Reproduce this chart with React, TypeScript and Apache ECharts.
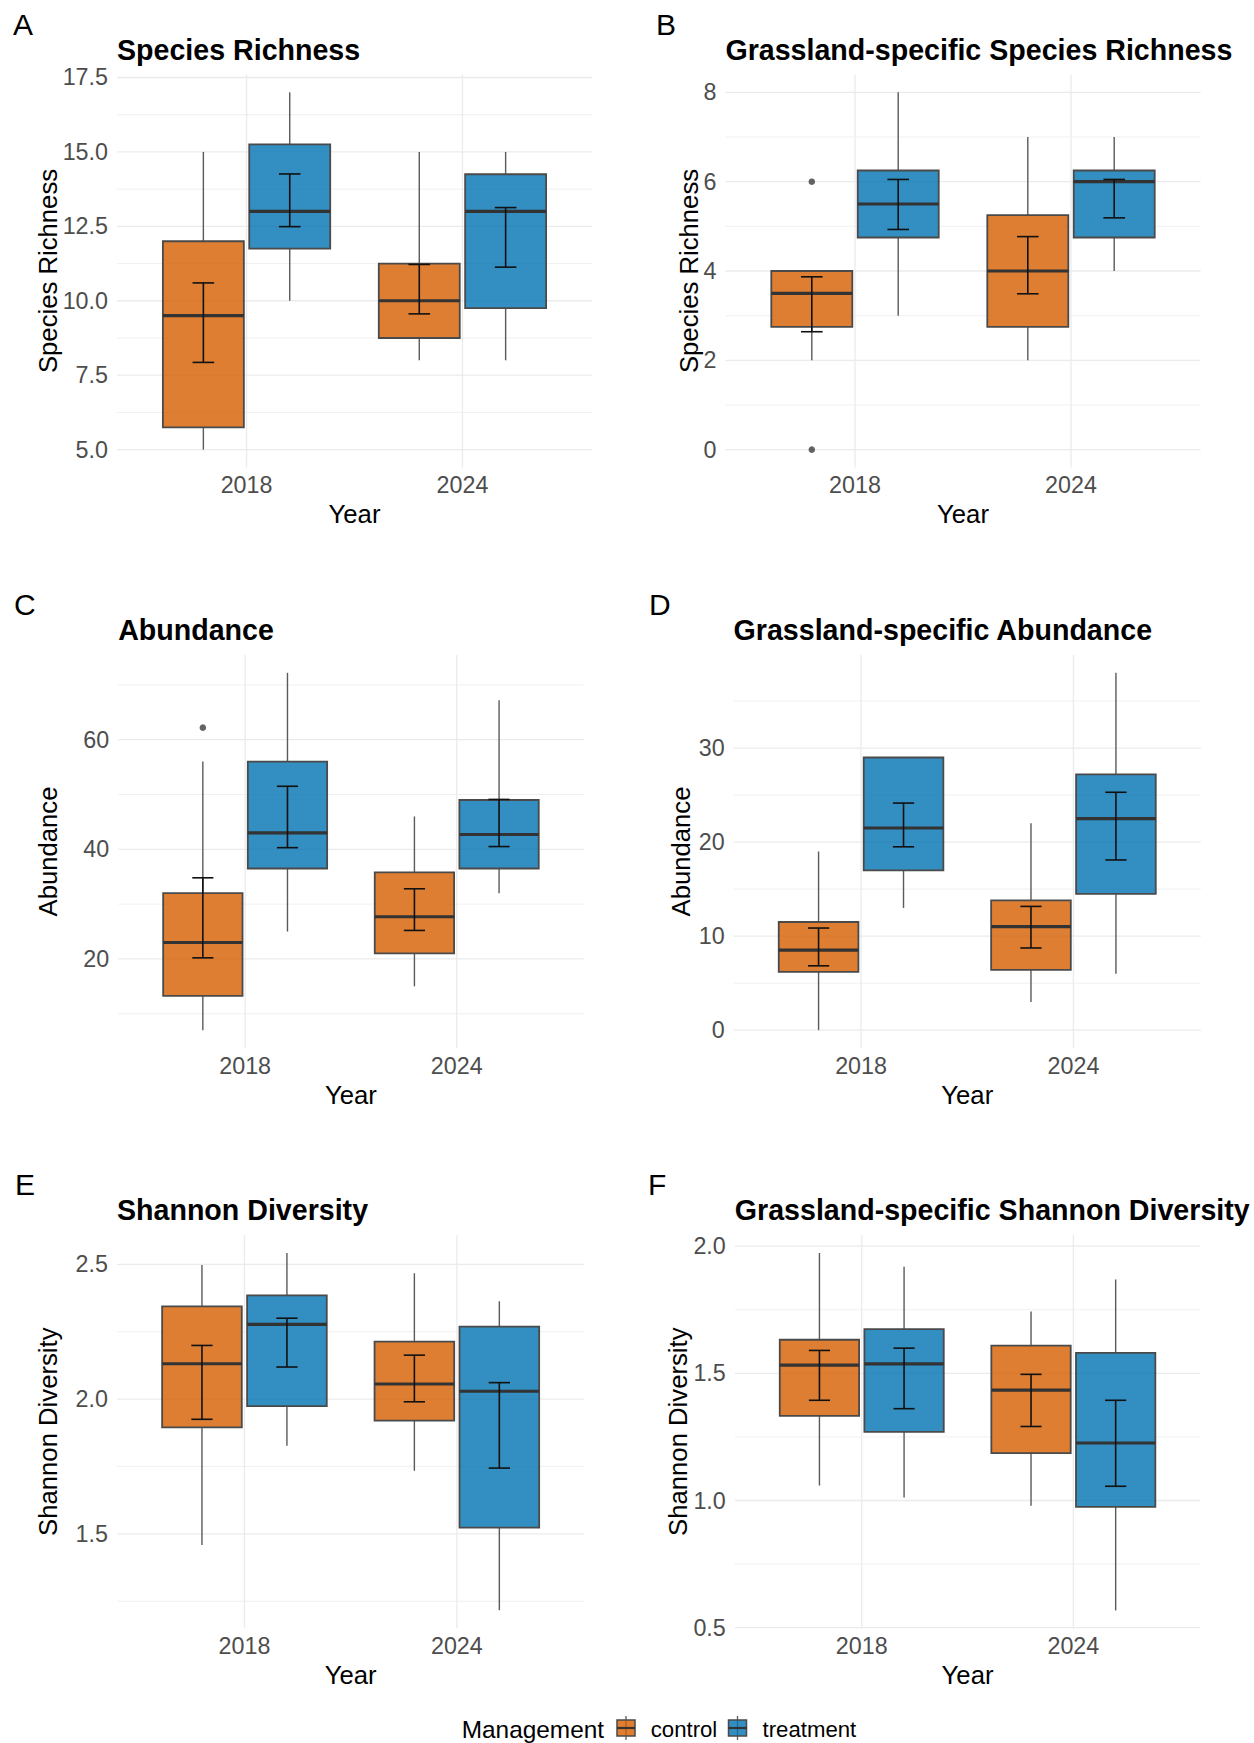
import React, { useEffect, useRef } from "react";
import * as echarts from "echarts";

const FONT = "'Liberation Sans', Arial, Helvetica, sans-serif";

// ---------- shared categories ----------
const years = ["2018", "2024"];
const groups = ["control", "treatment"];
const groupColors = ["rgba(213,94,0,0.8)", "rgba(0,114,178,0.8)"];

// Box values per year: [lower whisker, Q1, median, Q3, upper whisker]
// Error bars per year: [low, high]
// Outliers: [yearIndex, value]

// ---------- A: Species Richness ----------
const richControlBox = [[5, 5.75, 9.5, 12, 15], [8, 8.75, 10, 11.25, 15]];
const richTreatmentBox = [[10, 11.75, 13, 15.25, 17], [8, 9.75, 13, 14.25, 15]];
const richControlErr = [[7.93, 10.6], [9.56, 11.22]];
const richTreatmentErr = [[12.49, 14.26], [11.13, 13.13]];
const richControlOut: number[][] = [];
const richTreatmentOut: number[][] = [];
const richTicks = [5, 7.5, 10, 12.5, 15, 17.5];
const richMinor = [6.25, 8.75, 11.25, 13.75, 16.25];

// ---------- B: Grassland-specific Species Richness ----------
const gRichControlBox = [[2, 2.75, 3.5, 4, 4], [2, 2.75, 4, 5.25, 7]];
const gRichTreatmentBox = [[3, 4.75, 5.5, 6.25, 8], [4, 4.75, 6, 6.25, 7]];
const gRichControlErr = [[2.64, 3.87], [3.49, 4.77]];
const gRichTreatmentErr = [[4.93, 6.05], [5.19, 6.05]];
const gRichControlOut = [[0, 6], [0, 0]];
const gRichTreatmentOut: number[][] = [];
const gRichTicks = [0, 2, 4, 6, 8];
const gRichMinor = [1, 3, 5, 7];

// ---------- C: Abundance ----------
const abunControlBox = [[7, 13.25, 23, 32, 56], [15, 21, 27.7, 35.8, 46]];
const abunTreatmentBox = [[25, 36.5, 43, 56, 72.2], [32, 36.5, 42.7, 49, 67.2]];
const abunControlErr = [[20.2, 34.8], [25.2, 32.8]];
const abunTreatmentErr = [[40.3, 51.5], [40.5, 49.1]];
const abunControlOut = [[0, 62.2]];
const abunTreatmentOut: number[][] = [];
const abunTicks = [20, 40, 60];
const abunMinor = [10, 30, 50, 70];

// ---------- D: Grassland-specific Abundance ----------
const gAbunControlBox = [[0, 6.2, 8.5, 11.5, 19], [3, 6.4, 11, 13.8, 22]];
const gAbunTreatmentBox = [[13, 17, 21.5, 29, 29], [6, 14.5, 22.5, 27.2, 38]];
const gAbunControlErr = [[6.84, 10.86], [8.74, 13.16]];
const gAbunTreatmentErr = [[19.5, 24.15], [18.1, 25.3]];
const gAbunControlOut: number[][] = [];
const gAbunTreatmentOut: number[][] = [];
const gAbunTicks = [0, 10, 20, 30];
const gAbunMinor = [5, 15, 25, 35];

// ---------- E: Shannon Diversity ----------
const shanControlBox = [[1.459, 1.895, 2.131, 2.344, 2.497], [1.734, 1.92, 2.056, 2.213, 2.467]];
const shanTreatmentBox = [[1.827, 1.974, 2.277, 2.385, 2.542], [1.217, 1.523, 2.029, 2.269, 2.363]];
const shanControlErr = [[1.925, 2.199], [1.99, 2.163]];
const shanTreatmentErr = [[2.119, 2.3], [1.744, 2.061]];
const shanControlOut: number[][] = [];
const shanTreatmentOut: number[][] = [];
const shanTicks = [1.5, 2.0, 2.5];
const shanMinor = [1.25, 1.75, 2.25];

// ---------- F: Grassland-specific Shannon Diversity ----------
const gShanControlBox = [[1.059, 1.333, 1.532, 1.632, 1.973], [0.979, 1.186, 1.434, 1.609, 1.743]];
const gShanTreatmentBox = [[1.012, 1.27, 1.537, 1.674, 1.919], [0.568, 0.975, 1.226, 1.58, 1.869]];
const gShanControlErr = [[1.394, 1.59], [1.291, 1.496]];
const gShanTreatmentErr = [[1.361, 1.599], [1.056, 1.394]];
const gShanControlOut: number[][] = [];
const gShanTreatmentOut: number[][] = [];
const gShanTicks = [0.5, 1.0, 1.5, 2.0];
const gShanMinor = [0.75, 1.25, 1.75];

type Panel = {
  tag: string;
  title: string;
  yName: string;
  box: number[][][];
  err: number[][][];
  out: number[][][];
  yMin: number;
  yMax: number;
  ticks: number[];
  minor: number[];
  dec: number;
};

const panels: Panel[] = [
  { tag: "A", title: "Species Richness", yName: "Species Richness", box: [richControlBox, richTreatmentBox], err: [richControlErr, richTreatmentErr], out: [richControlOut, richTreatmentOut], yMin: 4.4, yMax: 17.6, ticks: richTicks, minor: richMinor, dec: 1 },
  { tag: "B", title: "Grassland-specific Species Richness", yName: "Species Richness", box: [gRichControlBox, gRichTreatmentBox], err: [gRichControlErr, gRichTreatmentErr], out: [gRichControlOut, gRichTreatmentOut], yMin: -0.4, yMax: 8.4, ticks: gRichTicks, minor: gRichMinor, dec: 0 },
  { tag: "C", title: "Abundance", yName: "Abundance", box: [abunControlBox, abunTreatmentBox], err: [abunControlErr, abunTreatmentErr], out: [abunControlOut, abunTreatmentOut], yMin: 3.75, yMax: 75.45, ticks: abunTicks, minor: abunMinor, dec: 0 },
  { tag: "D", title: "Grassland-specific Abundance", yName: "Abundance", box: [gAbunControlBox, gAbunTreatmentBox], err: [gAbunControlErr, gAbunTreatmentErr], out: [gAbunControlOut, gAbunTreatmentOut], yMin: -1.9, yMax: 39.9, ticks: gAbunTicks, minor: gAbunMinor, dec: 0 },
  { tag: "E", title: "Shannon Diversity", yName: "Shannon Diversity", box: [shanControlBox, shanTreatmentBox], err: [shanControlErr, shanTreatmentErr], out: [shanControlOut, shanTreatmentOut], yMin: 1.15, yMax: 2.608, ticks: shanTicks, minor: shanMinor, dec: 1 },
  { tag: "F", title: "Grassland-specific Shannon Diversity", yName: "Shannon Diversity", box: [gShanControlBox, gShanTreatmentBox], err: [gShanControlErr, gShanTreatmentErr], out: [gShanControlOut, gShanTreatmentOut], yMin: 0.498, yMax: 2.043, ticks: gShanTicks, minor: gShanMinor, dec: 1 },
];

// layout (pixels)
const layouts = [
  { left: 117, top: 74.5, width: 475, height: 393, tagX: 13, yTitleX: 48 },
  { left: 725.4, top: 74.5, width: 475.2, height: 393, tagX: 656, yTitleX: 689 },
  { left: 118.2, top: 655, width: 465.5, height: 393, tagX: 14, yTitleX: 48 },
  { left: 733.6, top: 655, width: 467.3, height: 393, tagX: 649, yTitleX: 681 },
  { left: 117, top: 1235.2, width: 467.3, height: 393, tagX: 15, yTitleX: 48 },
  { left: 734.8, top: 1235.2, width: 465.5, height: 393, tagX: 648, yTitleX: 678 },
];

const DODGE = [-0.2, 0.2];
const BOX_HALF = 0.1875;
const CAP_HALF = 0.05;
const GRID = "#EBEBEB";
const TICK_SIZE = 23.3;
const AXIS_TITLE_SIZE = 25.7;
const TITLE_SIZE = 28.6;

function gridRender(params: any, api: any) {
  const cs = params.coordSys;
  const kind = api.value(2);
  const p = api.coord([api.value(0), api.value(1)]);
  if (kind === 2) {
    return { type: "line", silent: true, shape: { x1: p[0], y1: cs.y, x2: p[0], y2: cs.y + cs.height }, style: { stroke: GRID, lineWidth: 1.3 } };
  }
  return { type: "line", silent: true, shape: { x1: cs.x, y1: p[1], x2: cs.x + cs.width, y2: p[1] }, style: { stroke: kind === 0 ? GRID : "#EEEEEE", lineWidth: kind === 0 ? 1.3 : 0.9 } };
}

function makeBoxRender(offset: number, fill: string) {
  return (params: any, api: any) => {
    const x = api.value(0) + offset;
    const lo = api.value(1), q1 = api.value(2), med = api.value(3), q3 = api.value(4), hi = api.value(5);
    const eLo = api.value(6), eHi = api.value(7);
    const c = (xx: number, yy: number) => api.coord([xx, yy]);
    const tl = c(x - BOX_HALF, q3);
    const br = c(x + BOX_HALF, q1);
    const mL = c(x - BOX_HALF, med);
    const mR = c(x + BOX_HALF, med);
    const wLo = c(x, lo), wQ1 = c(x, q1), wQ3 = c(x, q3), wHi = c(x, hi);
    const eA = c(x - CAP_HALF, eLo), eB = c(x + CAP_HALF, eLo);
    const eC = c(x - CAP_HALF, eHi), eD = c(x + CAP_HALF, eHi);
    const ln = (a: number[], b: number[], stroke: string, lw: number) => ({
      type: "line",
      shape: { x1: a[0], y1: a[1], x2: b[0], y2: b[1] },
      style: { stroke, lineWidth: lw },
    });
    return {
      type: "group",
      children: [
        ln(wQ1, wLo, "#5a5a5a", 1.4),
        ln(wQ3, wHi, "#5a5a5a", 1.4),
        {
          type: "rect",
          shape: { x: tl[0], y: tl[1], width: br[0] - tl[0], height: br[1] - tl[1] },
          style: { fill, stroke: "#4a4a4a", lineWidth: 1.8 },
        },
        ln(mL, mR, "#333333", 3.2),
        ln([eA[0] + (eB[0] - eA[0]) / 2, eA[1]], [eC[0] + (eD[0] - eC[0]) / 2, eC[1]], "#111111", 1.6),
        ln(eA, eB, "#111111", 1.6),
        ln(eC, eD, "#111111", 1.6),
      ],
    };
  };
}

function txt(x: number, y: number, text: string, size: number, opts: any = {}) {
  const align = opts.align || "left";
  return {
    type: "text",
    x,
    y,
    rotation: opts.rotation || 0,
    silent: true,
    style: {
      text,
      fontSize: size,
      fontFamily: FONT,
      fontWeight: opts.weight || "normal",
      fill: opts.fill || "#000000",
      align,
      textAlign: align,
      verticalAlign: "middle",
      textVerticalAlign: "middle",
    },
  };
}

function legendKey(cx: number, cy: number, fill: string) {
  return [
    { type: "line", silent: true, shape: { x1: cx, y1: cy - 12, x2: cx, y2: cy + 12 }, style: { stroke: "#5a5a5a", lineWidth: 1.3 } },
    { type: "rect", silent: true, shape: { x: cx - 9, y: cy - 8, width: 18, height: 16 }, style: { fill, stroke: "#4a4a4a", lineWidth: 1.5 } },
    { type: "line", silent: true, shape: { x1: cx - 9, y1: cy, x2: cx + 9, y2: cy }, style: { stroke: "#333333", lineWidth: 2.2 } },
  ];
}

function buildOption() {
  const grid: any[] = [];
  const xAxis: any[] = [];
  const yAxis: any[] = [];
  const series: any[] = [];
  const graphic: any[] = [];

  panels.forEach((p, i) => {
    const L = layouts[i];
    grid.push({ left: L.left, top: L.top, width: L.width, height: L.height, containLabel: false, outerBoundsMode: "none" });
    xAxis.push({
      gridIndex: i,
      type: "value",
      min: 0.4,
      max: 2.6,
      axisLine: { show: false },
      axisTick: { show: false },
      splitLine: { show: false },
      axisLabel: {
        customValues: [1, 2],
        formatter: (v: number) => years[Math.round(v) - 1] ?? "",
        color: "#4D4D4D",
        fontSize: TICK_SIZE,
        fontFamily: FONT,
        margin: 6,
      },
    });
    yAxis.push({
      gridIndex: i,
      type: "value",
      min: p.yMin,
      max: p.yMax,
      axisLine: { show: false },
      axisTick: { show: false },
      splitLine: { show: false },
      axisLabel: {
        customValues: p.ticks,
        formatter: (v: number) => Number(v).toFixed(p.dec),
        color: "#4D4D4D",
        fontSize: TICK_SIZE,
        fontFamily: FONT,
        margin: 9,
      },
    });

    const gridData: number[][] = [
      ...p.minor.map((v) => [1, v, 1]),
      ...p.ticks.map((v) => [1, v, 0]),
      ...years.map((_, k) => [k + 1, (p.yMin + p.yMax) / 2, 2]),
    ];
    series.push({
      type: "custom",
      xAxisIndex: i,
      yAxisIndex: i,
      silent: true,
      z: 1,
      data: gridData,
      renderItem: gridRender,
    });

    p.box.forEach((gb, g) => {
      series.push({
        type: "custom",
        name: groups[g],
        xAxisIndex: i,
        yAxisIndex: i,
        z: 3,
        silent: true,
        data: gb.map((b, k) => [k + 1, ...b, ...p.err[g][k]]),
        renderItem: makeBoxRender(DODGE[g], groupColors[g]),
      });
    });

    p.out.forEach((pts, g) => {
      if (!pts.length) return;
      series.push({
        type: "scatter",
        xAxisIndex: i,
        yAxisIndex: i,
        z: 4,
        silent: true,
        symbolSize: 6.5,
        itemStyle: { color: "#3c3c3c" },
        data: pts.map(([k, v]) => [k + 1 + DODGE[g], v]),
      });
    });

    graphic.push(txt(L.tagX, L.top - 50.5, p.tag, 30));
    graphic.push(txt(L.left, L.top - 25, p.title, TITLE_SIZE, { weight: "bold" }));
    graphic.push(txt(L.yTitleX, L.top + L.height / 2, p.yName, AXIS_TITLE_SIZE, { align: "center", rotation: Math.PI / 2 }));
    graphic.push(txt(L.left + L.width / 2, L.top + L.height + 46.5, "Year", AXIS_TITLE_SIZE, { align: "center" }));
  });

  // legend
  const ly = 1729;
  graphic.push(txt(461.7, ly, "Management", 24.4));
  graphic.push(...legendKey(626, ly - 1, groupColors[0]));
  graphic.push(txt(650.7, ly, groups[0], 22.2));
  graphic.push(...legendKey(737.5, ly - 1, groupColors[1]));
  graphic.push(txt(762.5, ly, groups[1], 22.2));

  return {
    animation: false,
    backgroundColor: "#ffffff",
    textStyle: { fontFamily: FONT },
    grid,
    xAxis,
    yAxis,
    series,
    graphic,
  };
}

export default function App() {
  const ref = useRef<HTMLDivElement>(null);
  useEffect(() => {
    if (!ref.current) return;
    const chart = echarts.init(ref.current, null, { renderer: "svg" });
    chart.setOption(buildOption() as any);
    return () => chart.dispose();
  }, []);
  return (
    <div
      ref={ref}
      style={{ position: "absolute", left: 0, top: 0, width: 1254, height: 1743, background: "#fff" }}
    />
  );
}
